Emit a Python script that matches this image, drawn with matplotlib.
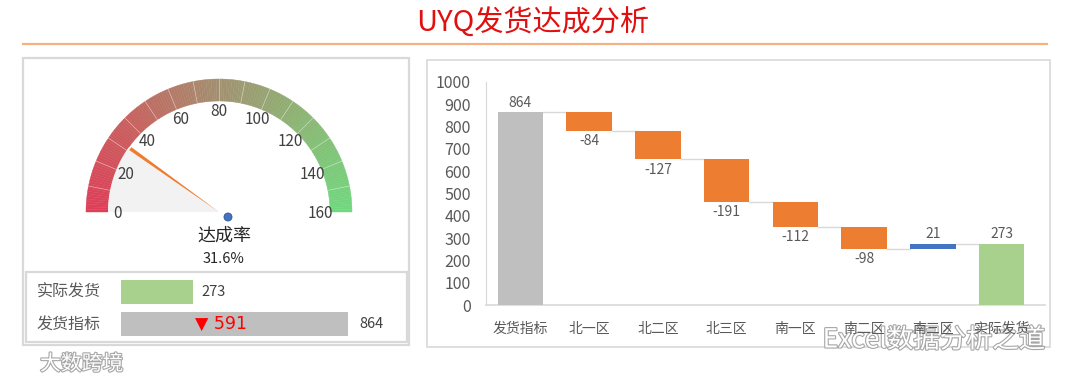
import numpy as np
import matplotlib
matplotlib.use("Agg")
import matplotlib.pyplot as plt
from matplotlib.patches import Polygon, Rectangle, Circle
import matplotlib.patheffects as pe
from matplotlib.colors import to_rgb

plt.rcParams['font.family'] = ['Noto Sans CJK SC', 'DejaVu Sans']

# ---------------- data ----------------
title = "UYQ发货达成分析"
categories = ["发货指标", "北一区", "北二区", "北三区", "南一区", "南二区", "南三区", "实际发货"]
changes = [864, -84, -127, -191, -112, -98, 21, 273]
target = 864
actual = 273
gauge_ticks = [0, 20, 40, 60, 80, 100, 120, 140, 160]
gauge_max = 160
table_labels = ["实际发货", "发货指标"]
table_values = [actual, target]

W, H = 1080, 384
fig = plt.figure(figsize=(W / 100, H / 100), dpi=100)
fig.patch.set_facecolor("white")

# overlay axes in pixel coordinates
ov = fig.add_axes([0, 0, 1, 1])
ov.set_xlim(0, W)
ov.set_ylim(H, 0)
ov.axis("off")

# title and rule
ov.text(533, 24, title, ha="center", va="center", fontsize=21, color="#E01010")
ov.plot([22, 1048], [44, 44], color="#F4B183", lw=1.6, solid_capstyle="butt")

# panel boxes
ov.add_patch(Rectangle((23, 58), 386, 287, fill=False, ec="#D9D9D9", lw=1.6))
ov.add_patch(Rectangle((26, 272), 381, 70, fill=False, ec="#D9D9D9", lw=1.6))
ov.add_patch(Rectangle((427, 60), 623, 287, fill=False, ec="#D9D9D9", lw=1.2))

# ---------------- gauge ----------------
cx, cy = 219, 212
r_out, r_in, r_lab = 133, 111, 101
stops_v = [0, 40, 80, 120, 160]
stops_c = [to_rgb(c) for c in ["#DE3E58", "#C8605E", "#A29070", "#8AB874", "#70D87E"]]


def col_at(v):
    return tuple(np.interp(v, stops_v, [c[i] for c in stops_c]) for i in range(3))


def ang(v):
    return np.pi - v / gauge_max * np.pi


def pt(r, a):
    return (cx + r * np.cos(a), cy - r * np.sin(a))


steps = 160
for i in range(steps):
    v0 = i * gauge_max / steps
    v1 = (i + 1) * gauge_max / steps
    aa = np.linspace(ang(v0), ang(v1), 4)
    pts = [pt(r_out, a) for a in aa] + [pt(r_in, a) for a in aa[::-1]]
    c = col_at((v0 + v1) / 2)
    ov.add_patch(Polygon(pts, closed=True, fc=c, ec=c, lw=0.3))
# segment separators
for v in range(10, gauge_max, 10):
    a = ang(v)
    p1, p2 = pt(r_in, a), pt(r_out, a)
    ov.plot([p1[0], p2[0]], [p1[1], p2[1]], color="white", lw=0.6, alpha=0.45)

rate = actual / target * 100
a_n = ang(rate)
# filled wedge
aa = np.linspace(a_n, np.pi, 60)
wpts = [(cx, cy)] + [pt(r_in, a) for a in aa]
ov.add_patch(Polygon(wpts, closed=True, fc="#F2F2F2", ec="none"))
# needle
tip = pt(r_in - 2, a_n)
perp = a_n + np.pi / 2
hw = 1.8
needle = [(cx, cy),
          (tip[0] + hw * np.cos(perp), tip[1] - hw * np.sin(perp)),
          (tip[0] - hw * np.cos(perp), tip[1] + hw * np.sin(perp))]
ov.add_patch(Polygon(needle, closed=True, fc="#ED7D31", ec="none"))
ov.add_patch(Circle((228, 217), 4, fc="#4472C4", ec="#2F5597", lw=0.6))

for v in gauge_ticks:
    x, y = pt(r_lab, ang(v))
    ov.text(x, y + 1, str(v), ha="center", va="center", fontsize=11, color="#404040")

ov.text(224, 236, "达成率", ha="center", va="center", fontsize=13, color="#262626")
ov.text(224, 259, f"{rate:.1f}%", ha="center", va="center", fontsize=10.5, color="#262626")

# ---------------- table bars ----------------
for lab, y in zip(table_labels, [292, 324]):
    ov.text(37, y, lab, ha="left", va="center", fontsize=11.5, color="#595959")

tb = fig.add_axes([121 / W, 1 - 340 / H, (348 - 121) / W, 64 / H])
tb.set_xlim(0, target)
tb.set_ylim(-0.5, 1.5)
tb.axis("off")
tb.barh([1, 0], table_values, height=0.75, color=["#A9D18E", "#BFBFBF"])
tb.text(table_values[0] + 35, 1, str(table_values[0]), ha="left", va="center", fontsize=10.5, color="#404040")
tb.text(table_values[1] + 45, 0, str(table_values[1]), ha="left", va="center", fontsize=10.5, color="#404040")
tb.text(target * 0.44, 0, f"▼ {target - actual}", ha="center", va="center", fontsize=12.5, color="#FF0000",
        family=["DejaVu Sans"])

# ---------------- waterfall ----------------
ax = fig.add_axes([486 / W, 1 - 305 / H, (1045 - 486) / W, (305 - 82) / H])
n = len(categories)
x = np.arange(n)
bottoms, heights, colors = [], [], []
running = 0
for i, c in enumerate(changes):
    if i == 0 or i == n - 1:
        bottoms.append(0)
        heights.append(c)
        colors.append("#BFBFBF" if i == 0 else "#A9D18E")
        running = c
    else:
        if c < 0:
            bottoms.append(running + c)
            heights.append(-c)
            colors.append("#ED7D31")
        else:
            bottoms.append(running)
            heights.append(c)
            colors.append("#4472C4")
        running += c
bw = 0.66
ax.bar(x, heights, bottom=bottoms, width=bw, color=colors, zorder=3)

# connectors
levels = np.cumsum(changes[:-1])
for i in range(n - 1):
    ax.plot([x[i] + bw / 2, x[i + 1] - bw / 2], [levels[i], levels[i]], color="#D9D9D9", lw=1.0, zorder=2)

# labels
for i, c in enumerate(changes):
    top = bottoms[i] + heights[i]
    if c >= 0:
        ax.text(x[i], top + 12, str(c), ha="center", va="bottom", fontsize=10, color="#595959")
    else:
        ax.text(x[i], bottoms[i] - 15, str(c), ha="center", va="top", fontsize=10, color="#595959")

ax.set_xlim(-0.5, n - 0.37)
ax.set_ylim(0, 1000)
ax.set_yticks(np.arange(0, 1001, 100))
ax.set_xticks(x)
ax.set_xticklabels(categories)
ax.tick_params(axis="y", length=0, pad=11, labelsize=11.5, labelcolor="#595959")
ax.tick_params(axis="x", length=0, pad=12, labelsize=10, labelcolor="#595959")
for s in ["top", "right"]:
    ax.spines[s].set_visible(False)
ax.spines["left"].set_color("#D9D9D9")
ax.spines["bottom"].set_color("#D9D9D9")
ax.spines["bottom"].set_linewidth(1.2)
ax.set_facecolor("none")

# ---------------- watermarks ----------------
wm = [pe.withStroke(linewidth=1.6, foreground="#A6A6A6")]
t1 = ov.text(40, 364, "大数跨境", ha="left", va="center", fontsize=15, color="white", zorder=10)
t1.set_path_effects(wm)
t2 = ov.text(1045, 340, "Excel数据分析之道", ha="right", va="center", fontsize=19, color="white", zorder=10)
t2.set_path_effects(wm)

fig.savefig("out.png", dpi=100, facecolor="white")
